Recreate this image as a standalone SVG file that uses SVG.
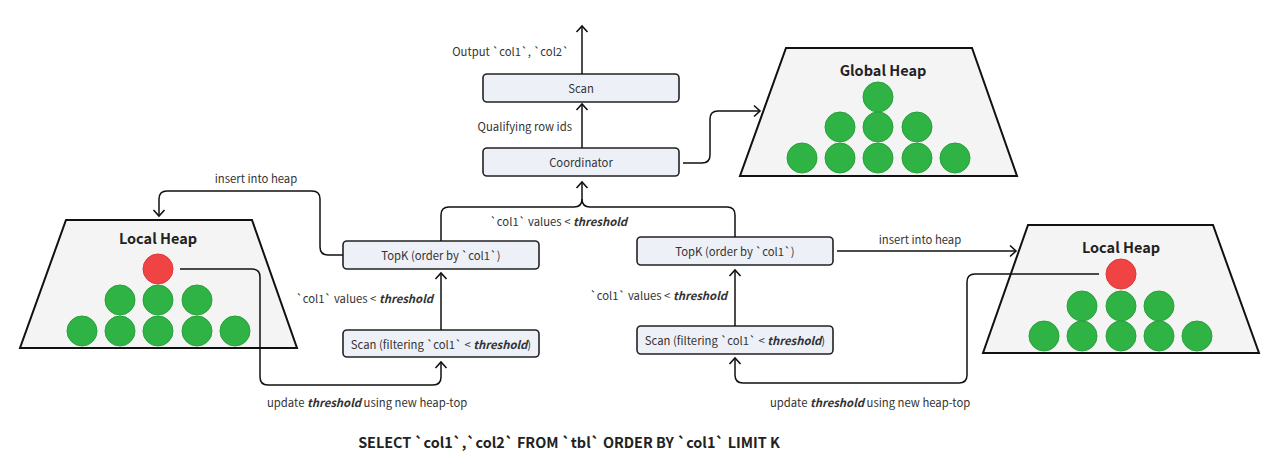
<svg xmlns="http://www.w3.org/2000/svg" width="1280" height="469" viewBox="0 0 1280 469">
<style>
text{font-family:"Noto Sans CJK SC","Noto Sans",sans-serif;fill:#333;font-size:11.3px}
.lbl{dominant-baseline:central}
.box{fill:#eef0f8;stroke:#222;stroke-width:1.6}
.heap{fill:#f4f4f4;stroke:#111;stroke-width:2}
.g{fill:#2fb344;stroke:#27a13a;stroke-width:1}
.r{fill:#f04444;stroke:#e03636;stroke-width:1}
.title{font-weight:bold;font-size:14.5px;fill:#222}
.sql{font-weight:bold;font-size:14.4px;fill:#222}
.bi{font-weight:bold;font-style:italic}
.c{fill:none;stroke:#111;stroke-width:1.5}
</style>
<defs>
<marker id="ah" markerUnits="userSpaceOnUse" markerWidth="14" markerHeight="14" viewBox="-8 -7 10 14" refX="0" refY="0" orient="auto">
<path d="M-6,-5.5 L0,0 L-6,5.5" fill="none" stroke="#111" stroke-width="1.6"/>
</marker>
</defs>
<rect width="1280" height="469" fill="#fff"/>

<g id="scan-top">
<rect class="box" x="483" y="74" width="196" height="28" rx="4"/>
<text class="lbl" x="581" y="88" text-anchor="middle">Scan</text>
</g>
<g id="coordinator">
<rect class="box" x="483" y="148" width="196" height="28" rx="4"/>
<text class="lbl" x="581" y="162" text-anchor="middle">Coordinator</text>
</g>
<g id="topk-left">
<rect class="box" x="343" y="241" width="196" height="28" rx="4"/>
<text class="lbl" x="441" y="255" text-anchor="middle">TopK (order by `col1`)</text>
</g>
<g id="scan-left">
<rect class="box" x="343" y="330" width="196" height="27" rx="4"/>
<text class="lbl" x="441" y="343.5" text-anchor="middle">Scan (filtering `col1` &lt; <tspan class="bi">threshold</tspan>)</text>
</g>
<g id="topk-right">
<rect class="box" x="637" y="237" width="196" height="28" rx="4"/>
<text class="lbl" x="735" y="251" text-anchor="middle">TopK (order by `col1`)</text>
</g>
<g id="scan-right">
<rect class="box" x="637" y="326" width="196" height="28" rx="4"/>
<text class="lbl" x="735" y="340" text-anchor="middle">Scan (filtering `col1` &lt; <tspan class="bi">threshold</tspan>)</text>
</g>

<g id="global-heap">
<polygon class="heap" points="786,48 972,48 1017,176 740,176"/>
<text class="lbl title" x="883" y="69" text-anchor="middle">Global Heap</text>
<circle class="g" cx="878" cy="97" r="15"/>
<circle class="g" cx="840" cy="127" r="15"/>
<circle class="g" cx="878" cy="127" r="15"/>
<circle class="g" cx="917" cy="127" r="15"/>
<circle class="g" cx="802" cy="158" r="15"/>
<circle class="g" cx="840" cy="158" r="15"/>
<circle class="g" cx="878" cy="158" r="15"/>
<circle class="g" cx="917" cy="158" r="15"/>
<circle class="g" cx="955" cy="158" r="15"/>
</g>

<g id="local-heap-left">
<polygon class="heap" points="66,220 252,220 297,348 20,348"/>
<text class="lbl title" x="158" y="237" text-anchor="middle">Local Heap</text>
<circle class="r" cx="158" cy="269" r="15"/>
<circle class="g" cx="120" cy="300" r="15"/>
<circle class="g" cx="158" cy="300" r="15"/>
<circle class="g" cx="197" cy="300" r="15"/>
<circle class="g" cx="82" cy="331" r="15"/>
<circle class="g" cx="120" cy="331" r="15"/>
<circle class="g" cx="158" cy="331" r="15"/>
<circle class="g" cx="197" cy="331" r="15"/>
<circle class="g" cx="235" cy="331" r="15"/>
</g>

<g id="local-heap-right">
<polygon class="heap" points="1028,225 1213,225 1259,353 983,353"/>
<text class="lbl title" x="1121" y="246" text-anchor="middle">Local Heap</text>
<circle class="r" cx="1121" cy="274" r="15"/>
<circle class="g" cx="1082" cy="306" r="15"/>
<circle class="g" cx="1121" cy="306" r="15"/>
<circle class="g" cx="1159" cy="306" r="15"/>
<circle class="g" cx="1044" cy="336" r="15"/>
<circle class="g" cx="1082" cy="336" r="15"/>
<circle class="g" cx="1121" cy="336" r="15"/>
<circle class="g" cx="1159" cy="336" r="15"/>
<circle class="g" cx="1197" cy="336" r="15"/>
</g>

<g id="connectors">
<path class="c" d="M582,74 V26" marker-end="url(#ah)"/>
<path class="c" d="M582,148 V104" marker-end="url(#ah)"/>
<path class="c" d="M683,163 H702 Q710,163 710,155 V119 Q710,111 718,111 H760" marker-end="url(#ah)"/>
<path class="c" d="M441,241 V215 Q441,207 449,207 H574 Q582,207 582,199 V182" marker-end="url(#ah)"/>
<path class="c" d="M735,237 V215 Q735,207 727,207 H590 Q582,207 582,199"/>
<path class="c" d="M441,330 V273" marker-end="url(#ah)"/>
<path class="c" d="M735,326 V270" marker-end="url(#ah)"/>
<path class="c" d="M343,255 H328 Q320,255 320,247 V199 Q320,191 312,191 H167 Q159,191 159,199 V216" marker-end="url(#ah)"/>
<path class="c" d="M180,269 H252 Q260,269 260,277 V377 Q260,385 268,385 H433 Q441,385 441,377 V362" marker-end="url(#ah)"/>
<path class="c" d="M837,251 H1016" marker-end="url(#ah)"/>
<path class="c" d="M1099,274 H975 Q967,274 967,282 V375 Q967,383 959,383 H743 Q735,383 735,375 V358" marker-end="url(#ah)"/>
</g>

<g id="labels">
<text class="lbl" x="569" y="51" text-anchor="end">Output `col1`, `col2`</text>
<text class="lbl" x="572" y="126" text-anchor="end">Qualifying row ids</text>
<text class="lbl" x="490" y="221">`col1` values &lt; <tspan class="bi">threshold</tspan></text>
<text class="lbl" x="256" y="178" text-anchor="middle">insert into heap</text>
<text class="lbl" x="433" y="298" text-anchor="end">`col1` values &lt; <tspan class="bi">threshold</tspan></text>
<text class="lbl" x="267" y="402">update <tspan class="bi">threshold</tspan> using new heap-top</text>
<text class="lbl" x="727" y="295" text-anchor="end">`col1` values &lt; <tspan class="bi">threshold</tspan></text>
<text class="lbl" x="920" y="239" text-anchor="middle">insert into heap</text>
<text class="lbl" x="770" y="402">update <tspan class="bi">threshold</tspan> using new heap-top</text>
<text class="lbl sql" x="569" y="441" text-anchor="middle">SELECT `col1`,`col2` FROM `tbl` ORDER BY `col1` LIMIT K</text>
</g>
</svg>
